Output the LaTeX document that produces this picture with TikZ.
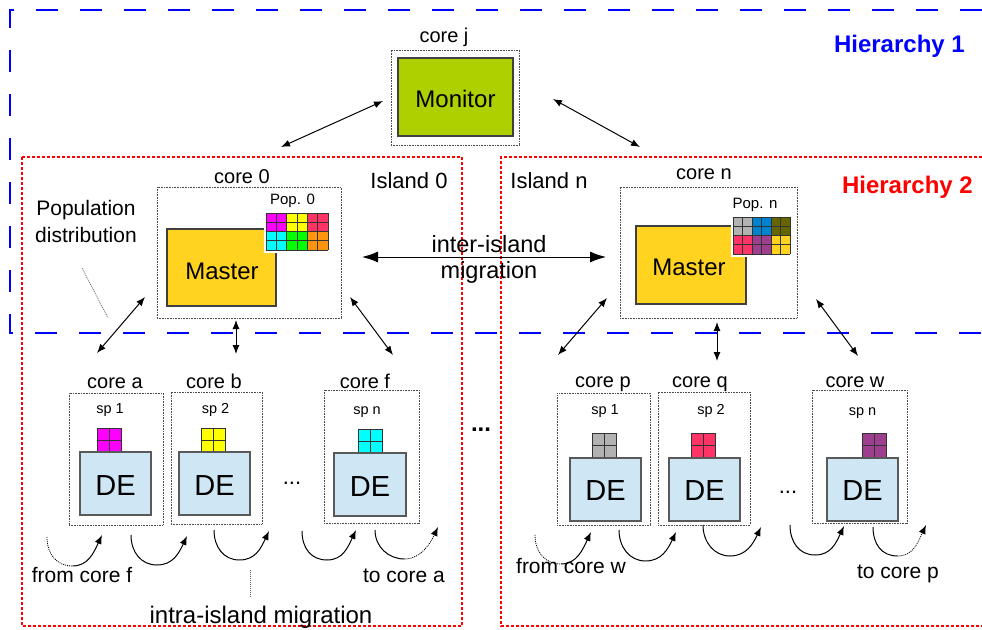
\documentclass[tikz,border=0pt]{standalone}
\usepackage{fontspec}
\setmainfont{Liberation Sans}
\usetikzlibrary{arrows.meta,calc}
\definecolor{monitorgreen}{RGB}{174,207,0}
\definecolor{masteryellow}{RGB}{255,211,32}
\definecolor{deblue}{RGB}{207,231,245}
\definecolor{hblue}{RGB}{0,0,255}
\definecolor{hred}{RGB}{255,0,0}
\definecolor{pmagenta}{RGB}{255,0,255}
\definecolor{pyellow}{RGB}{255,255,0}
\definecolor{pcrimson}{RGB}{255,51,102}
\definecolor{pcyan}{RGB}{0,255,255}
\definecolor{pgreen}{RGB}{0,255,0}
\definecolor{porange}{RGB}{255,149,14}
\definecolor{pgray}{RGB}{178,178,178}
\definecolor{pblue}{RGB}{0,132,209}
\definecolor{polive}{RGB}{102,102,0}
\definecolor{ppurple}{RGB}{158,62,142}
\definecolor{pgold}{RGB}{255,211,32}
\newcommand\fsz[1]{\fontsize{#1}{#1}\selectfont}
\newcommand\popgrid[9]{%
  \begin{scope}[shift={(#1,#2)}]
    \fill[white] (-2.5,-2.5) rectangle ({6*#3+2.5},39.5);
    \fill[#4] (0,0) rectangle ({2*#3},18.5);
    \fill[#5] ({2*#3},0) rectangle ({4*#3},18.5);
    \fill[#6] ({4*#3},0) rectangle ({6*#3},18.5);
    \fill[#7] (0,18.5) rectangle ({2*#3},37);
    \fill[#8] ({2*#3},18.5) rectangle ({4*#3},37);
    \fill[#9] ({4*#3},18.5) rectangle ({6*#3},37);
    \foreach \i in {0,...,6} \draw[gridln] ({\i*#3},0) -- ({\i*#3},37);
    \foreach \j in {0,...,4} \draw[gridln] (0,{\j*9.25}) -- ({6*#3},{\j*9.25});
  \end{scope}}
\newcommand\spgrid[3]{%
  \fill[#3] (#1,#2) rectangle ++(24,24);
  \draw[gridln] (#1,#2) rectangle ++(24,24);
  \draw[gridln] ({#1+12},#2) -- ++(0,24);
  \draw[gridln] (#1,{#2+12}) -- ++(24,0);}
\newcommand\migarc[4]{%
  \path let \p1=(#1), \p2=(#2) in ({(\x1+\x2)/2-2pt},{min(\y1,\y2)-29pt}) coordinate (#1m);
  \draw[#3] (#1) .. controls +(0,17) and +(-16,0) .. (#1m);
  \draw[#4] (#1m) .. controls +(16,0) and +(-8,17) .. (#2);}
\begin{document}
\begin{tikzpicture}[x=1pt,y=-1pt,
  corebox/.style={draw=black!70,dash pattern=on 0.8pt off 0.8pt,line width=0.8pt,inner sep=0,outer sep=0},
  masterbox/.style={draw=black!75,line width=1.3pt,fill=masteryellow,inner sep=0,outer sep=0},
  debox/.style={draw=black!65,line width=1.5pt,fill=deblue,inner sep=0,outer sep=0},
  gridln/.style={draw=black!80,line width=0.9pt},
  lbl/.style={inner sep=0,anchor=base,font=\fsz{20}},
  splbl/.style={inner sep=0,anchor=base,font=\fsz{14.5}},
  biarrow/.style={{Latex[length=9pt,width=7pt]}-{Latex[length=9pt,width=7pt]},line width=1pt},
  solidarc/.style={line width=1pt},
  dotarc/.style={line width=0.8pt,dash pattern=on 1pt off 1pt},
  arctip/.style={-{Latex[length=9pt,width=7pt]}},
  leader/.style={draw=black!60,line width=0.8pt,dash pattern=on 1pt off 1pt},
  bluedash/.style={draw=hblue,line width=2.6pt,dash pattern=on 22pt off 22pt},
  reddot/.style={draw=hred,line width=2.5pt,dash pattern=on 3pt off 2pt}]
\useasboundingbox (0,0) rectangle (982,629);
% hierarchy frames
\draw[bluedash] (982,10) -- (10,10) -- (10,333) -- (982,333);
\draw[reddot] (22,157) rectangle (462,626);
\draw[reddot] (982,157) -- (501,157) -- (501,626) -- (982,626);
\node[anchor=base east,inner sep=0,font=\fsz{24}\bfseries,text=hblue] (h1) at (965,52) {Hierarchy 1};
\node[anchor=base east,inner sep=0,font=\fsz{24}\bfseries,text=hred] (h2) at (973,193) {Hierarchy 2};
\node[lbl,font=\fsz{22}] (isl0) at (409,188) {Island 0};
\node[lbl,font=\fsz{22}] (isln) at (549,188) {Island n};
% monitor
\node[corebox,minimum width=128,minimum height=95] (cj) at (455,97.5) {};
\node[draw=black!75,line width=1.3pt,fill=monitorgreen,minimum width=115,minimum height=78,inner sep=0] (mon) at (455.5,97) {};
\node[inner sep=0,anchor=base,font=\fsz{24}] (montxt) at (455.5,107) {Monitor};
\node[lbl] (cjl) at (444,42) {core j};
% island 0 master
\node[corebox,minimum width=184,minimum height=131] (c0) at (249,252.5) {};
\node[lbl] (c0l) at (242,183) {core 0};
\node[masterbox,minimum width=109,minimum height=77] (m0) at (221.5,267.5) {};
\node[inner sep=0,anchor=base,font=\fsz{24}] (m0t) at (222,279) {Master};
\popgrid{266}{213}{10.33}{pmagenta}{pyellow}{pcrimson}{pcyan}{pgreen}{porange}
\node[splbl,font=\fsz{15}] (p0l) at (292.5,204) {Pop. 0};
% island n master
\node[corebox,minimum width=177,minimum height=131] (cn) at (708.5,252.5) {};
\node[lbl] (cnl) at (704,179) {core n};
\node[masterbox,minimum width=110,minimum height=78] (mn) at (691,265) {};
\node[inner sep=0,anchor=base,font=\fsz{24}] (mnt) at (689,275) {Master};
\popgrid{733}{217}{9.5}{pgray}{pblue}{polive}{pcrimson}{ppurple}{pgold}
\node[splbl,font=\fsz{15}] (pnl) at (755,208) {Pop. n};
% population distribution
\node[lbl,font=\fsz{21}] (pd1) at (86,215) {Population};
\node[lbl,font=\fsz{21}] (pd2) at (86,242) {distribution};
\coordinate (pdl1) at (82,268);
\coordinate (pdl2) at (108,318);
\draw[leader] (pdl1) -- (pdl2);
% inter-island
\node[lbl,font=\fsz{23.5}] (ii1) at (489,252) {inter-island};
\node[lbl,font=\fsz{23.5}] (ii2) at (489,278) {migration};
\coordinate (iiL) at (362,257);
\coordinate (iiR) at (606,257);
\draw[{Latex[length=16pt,width=11pt]}-{Latex[length=16pt,width=11pt]},line width=1pt] (iiL) -- (iiR);
% monitor arrows
\coordinate (ma1) at (281,147); \coordinate (ma2) at (383,101);
\coordinate (mb1) at (553,99);  \coordinate (mb2) at (640,147);
\draw[biarrow] (ma1) -- (ma2);
\draw[biarrow] (mb1) -- (mb2);
% island 0 cores
\node[corebox,minimum width=94,minimum height=132] (ca) at (116,459) {};
\node[corebox,minimum width=91,minimum height=132] (cb) at (216.5,458) {};
\node[corebox,minimum width=95,minimum height=133] (cf) at (371.5,456.5) {};
\node[lbl] (cal) at (115,388) {core a};
\node[lbl] (cbl) at (214,388) {core b};
\node[lbl] (cfl) at (365,388) {core f};
\node[splbl] (sa) at (110,413) {sp 1};
\node[splbl] (sb) at (215.5,413) {sp 2};
\node[splbl] (sf) at (367,414) {sp n};
\spgrid{97}{428}{pmagenta}
\spgrid{201}{428}{pyellow}
\spgrid{358}{429}{pcyan}
\node[debox,minimum width=71,minimum height=63] (dea) at (115.5,483.5) {};
\node[debox,minimum width=71,minimum height=63] (deb) at (214.5,483.5) {};
\node[debox,minimum width=72,minimum height=63] (def) at (370,484.5) {};
\node[inner sep=0,anchor=base,font=\fsz{29}] at (115.5,495) {DE};
\node[inner sep=0,anchor=base,font=\fsz{29}] at (214.5,495) {DE};
\node[inner sep=0,anchor=base,font=\fsz{29}] at (370,496) {DE};
\node[inner sep=0,font=\fsz{22}] (dots0) at (292,483) {...};
% island n cores
\node[corebox,minimum width=93,minimum height=132] (cp) at (603.5,459) {};
\node[corebox,minimum width=92,minimum height=133] (cq) at (704,458.5) {};
\node[corebox,minimum width=95,minimum height=133] (cw) at (859.5,456.5) {};
\node[lbl] (cpl) at (603,387) {core p};
\node[lbl] (cql) at (700,387) {core q};
\node[lbl] (cwl) at (855,387) {core w};
\node[splbl] (sp) at (605,414) {sp 1};
\node[splbl] (sq) at (711,414) {sp 2};
\node[splbl] (sw) at (862.5,415) {sp n};
\spgrid{592}{433}{pgray}
\spgrid{691}{433}{pcrimson}
\spgrid{862}{433}{ppurple}
\node[debox,minimum width=71,minimum height=63] (dep) at (605.5,489.5) {};
\node[debox,minimum width=71,minimum height=63] (deq) at (704.5,489.5) {};
\node[debox,minimum width=71,minimum height=63] (dew) at (862.5,489.5) {};
\node[inner sep=0,anchor=base,font=\fsz{29}] at (605.5,500) {DE};
\node[inner sep=0,anchor=base,font=\fsz{29}] at (704.5,500) {DE};
\node[inner sep=0,anchor=base,font=\fsz{29}] at (862.5,500) {DE};
\node[inner sep=0,font=\fsz{22}] (dotsn) at (788,492) {...};
\node[inner sep=0,font=\fsz{24}\bfseries] (dotsm) at (481,430) {...};
% master-core arrows
\coordinate (a0l1) at (97,353);  \coordinate (a0l2) at (145,297);
\coordinate (a0m1) at (236,320); \coordinate (a0m2) at (236,354);
\coordinate (a0r1) at (350,297); \coordinate (a0r2) at (393,355);
\coordinate (anl1) at (558,355); \coordinate (anl2) at (607,298);
\coordinate (anm1) at (717,322); \coordinate (anm2) at (717,361);
\coordinate (anr1) at (816,299); \coordinate (anr2) at (858,356);
\draw[biarrow] (a0l1) -- (a0l2);
\draw[biarrow] (a0m1) -- (a0m2);
\draw[biarrow] (a0r1) -- (a0r2);
\draw[biarrow] (anl1) -- (anl2);
\draw[biarrow] (anm1) -- (anm2);
\draw[biarrow] (anr1) -- (anr2);
% migration arcs island 0
\coordinate (a1s) at (47,537);  \coordinate (a1e) at (102,535);
\coordinate (a2s) at (131,535); \coordinate (a2e) at (187,536);
\coordinate (a3s) at (214,530); \coordinate (a3e) at (269,531);
\coordinate (a4s) at (302,531); \coordinate (a4e) at (356,530);
\coordinate (a5s) at (375,530); \coordinate (a5e) at (438,527);
\migarc{a1s}{a1e}{dotarc}{solidarc,arctip}
\migarc{a2s}{a2e}{solidarc}{solidarc,arctip}
\migarc{a3s}{a3e}{solidarc}{solidarc,arctip}
\migarc{a4s}{a4e}{solidarc}{solidarc,arctip}
\migarc{a5s}{a5e}{solidarc}{dotarc,arctip}
% migration arcs island n
\coordinate (b1s) at (535,535); \coordinate (b1e) at (591,532);
\coordinate (b2s) at (619,530); \coordinate (b2e) at (676,532);
\coordinate (b3s) at (703,525); \coordinate (b3e) at (761,527);
\coordinate (b4s) at (790,525); \coordinate (b4e) at (844,526);
\coordinate (b5s) at (873,527); \coordinate (b5e) at (926,525);
\migarc{b1s}{b1e}{dotarc}{solidarc,arctip}
\migarc{b2s}{b2e}{solidarc}{solidarc,arctip}
\migarc{b3s}{b3e}{solidarc}{solidarc,arctip}
\migarc{b4s}{b4e}{solidarc}{solidarc,arctip}
\migarc{b5s}{b5e}{solidarc}{dotarc,arctip}
% labels
\node[lbl,font=\fsz{21}] (fcf) at (82,582) {from core f};
\node[lbl,font=\fsz{21}] (tca) at (404,582) {to core a};
\node[lbl,font=\fsz{21}] (fcw) at (571,573) {from core w};
\node[lbl,font=\fsz{21}] (tcp) at (898,578) {to core p};
\node[lbl,font=\fsz{24}] (intra) at (261,623) {intra-island migration};
\coordinate (il1) at (250,570);
\coordinate (il2) at (250,598);
\draw[leader] (il1) -- (il2);
\end{tikzpicture}
\end{document}
